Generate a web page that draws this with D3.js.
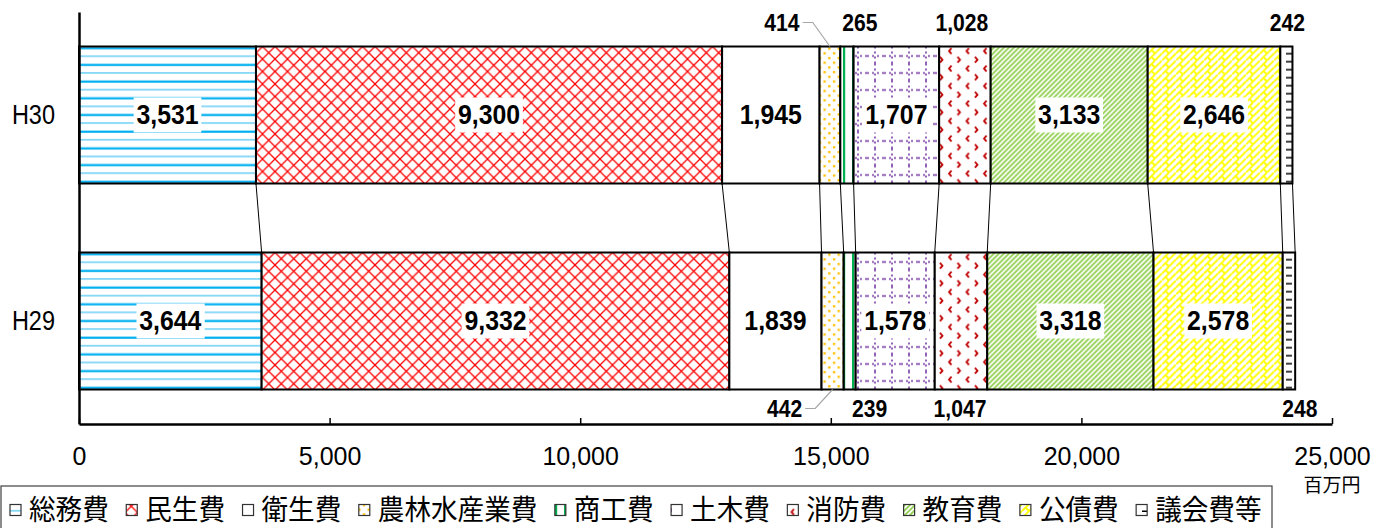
<!DOCTYPE html>
<html><head><meta charset="utf-8">
<script src="https://cdn.jsdelivr.net/npm/d3@7"></script>
<style>body{margin:0;background:#fff;} svg{display:block;}</style>
</head><body><svg id="c" width="1386" height="528"></svg>
<script>
// ---------------- data ----------------
const years = ["H30", "H29"];
const categories = ["総務費","民生費","衛生費","農林水産業費","商工費","土木費","消防費","教育費","公債費","議会費等"];
const valuesH30 = [3531, 9300, 1945, 414, 265, 1707, 1028, 3133, 2646, 242];
const valuesH29 = [3644, 9332, 1839, 442, 239, 1578, 1047, 3318, 2578, 248];
const xTicks = [0, 5000, 10000, 15000, 20000, 25000];
const unitLabel = "百万円";

// ---------------- layout / style config ----------------
const outsideCats = new Set(["農林水産業費","商工費","消防費","議会費等"]);
const labelDx = {
  H30: {"農林水産業費": -48, "商工費": 13, "消防費": -3, "議会費等": 1},
  H29: {"農林水産業費": -48, "商工費": 20, "消防費": -1, "議会費等": 11}
};
const leaderCats = new Set(["農林水産業費"]);
const FONT = "'Liberation Sans', Arial, sans-serif";
const JFONT = "'Noto Sans CJK JP', 'Noto Sans', sans-serif";

const svg = d3.select("#c");
const defs = svg.append("defs");

const x = d3.scaleLinear().domain([0, 25000]).range([79, 1332]);
const y = d3.scaleBand().domain(years).range([12, 424]).paddingInner(0.335).paddingOuter(0.1675);
const bw = y.bandwidth();

// ---------------- patterns ----------------
function makePattern(id, ci, ty) {
  const p = defs.append("pattern").attr("id", id).attr("patternUnits", "userSpaceOnUse");
  const add = (w, h) => { p.attr("width", w).attr("height", h).attr("patternTransform", `translate(0,${ty})`);
    p.append("rect").attr("width", w).attr("height", h).attr("fill", "#fff"); };
  switch (ci) {
    case 0: add(8, 16.7);
      p.append("rect").attr("x",0).attr("y",0.6).attr("width",8).attr("height",2.2).attr("fill","#00B0F0");
      p.append("rect").attr("x",0).attr("y",9.1).attr("width",8).attr("height",1.3).attr("fill","#55c8f4");
      break;
    case 1: add(12.5, 12.5);
      p.append("path").attr("d","M0,0L12.5,12.5M12.5,0L0,12.5").attr("stroke","#FF0000").attr("stroke-width",1.3).attr("fill","none");
      break;
    case 2: add(10, 10); break;
    case 3: add(9.4, 9.4);
      p.append("rect").attr("x",1).attr("y",1).attr("width",2.3).attr("height",2.3).attr("fill","#FFC000");
      p.append("rect").attr("x",5.7).attr("y",5.7).attr("width",2.3).attr("height",2.3).attr("fill","#FFC000");
      break;
    case 4: add(9, 10);
      p.append("rect").attr("x",6).attr("y",0).attr("width",2.2).attr("height",10).attr("fill","#00B050");
      break;
    case 5: add(17, 17);
      p.append("line").attr("x1",8).attr("x2",8).attr("y1",0).attr("y2",17).attr("stroke","#7030A0").attr("stroke-width",1.5).attr("stroke-dasharray","2,3");
      p.append("line").attr("x1",0).attr("x2",17).attr("y1",9.4).attr("y2",9.4).attr("stroke","#7030A0").attr("stroke-width",1.5).attr("stroke-dasharray","2,3");
      break;
    case 6: add(17.5, 17.5);
      p.append("path").attr("d","M6.5,1.5L4,4.5L6.5,7.5").attr("stroke","#C00000").attr("stroke-width",1.8).attr("fill","none");
      p.append("path").attr("d","M12.5,10.25L15,13.25L12.5,16.25").attr("stroke","#C00000").attr("stroke-width",1.8).attr("fill","none");
      break;
    case 7: add(5, 5);
      p.append("path").attr("d","M-1,1L1,-1M0,5L5,0M4,6L6,4").attr("stroke","#92D050").attr("stroke-width",1.8).attr("fill","none");
      break;
    case 8: add(14, 14);
      p.append("path").attr("d","M0,7L7,0M0,14L14,0M7,14L14,7M3.5,3.5L7,7M3.5,10.5L7,14M10.5,-3.5L14,0")
        .attr("stroke","#FFFF00").attr("stroke-width",1.8).attr("fill","none");
      break;
    case 9: add(12, 8);
      p.append("rect").attr("x",2).attr("y",6.5).attr("width",6).attr("height",1.6).attr("fill","#000");
      break;
  }
}
years.forEach((yr, yi) => categories.forEach((c, ci) => makePattern(`p${yi}_${ci}`, ci, y(yr))));
categories.forEach((c, ci) => makePattern(`pl_${ci}`, ci, 0));

// ---------------- stacked data ----------------
const valuesByYear = {H30: valuesH30, H29: valuesH29};
const stacks = {};
years.forEach(yr => {
  let acc = 0;
  stacks[yr] = categories.map((c, ci) => {
    const v = valuesByYear[yr][ci];
    const d = {year: yr, cat: c, ci, v, x0: acc, x1: acc + v};
    acc += v; return d;
  });
});

// ---------------- series lines ----------------
const gLines = svg.append("g");
categories.forEach((c, ci) => {
  const a = stacks.H30[ci], b = stacks.H29[ci];
  gLines.append("line")
    .attr("x1", x(a.x1)).attr("y1", y("H30") + bw)
    .attr("x2", x(b.x1)).attr("y2", y("H29"))
    .attr("stroke", "#000").attr("stroke-width", 1);
});

// ---------------- bars ----------------
years.forEach((yr, yi) => {
  svg.append("g").selectAll("rect").data(stacks[yr]).join("rect")
    .attr("x", d => x(d.x0)).attr("y", y(yr))
    .attr("width", d => x(d.x1) - x(d.x0)).attr("height", bw)
    .attr("fill", d => `url(#p${yi}_${d.ci})`)
    .attr("stroke", "#000").attr("stroke-width", 2);
});

// ---------------- axes ----------------
const xAxis = svg.append("g").attr("transform", `translate(0,${424})`)
  .call(d3.axisBottom(x).tickValues(xTicks).tickSizeInner(-6).tickSizeOuter(0).tickFormat(d3.format(",")));
xAxis.select(".domain").attr("stroke", "#000").attr("stroke-width", 2.5);
xAxis.selectAll(".tick line").attr("stroke", "#000").attr("stroke-width", 1.5);
xAxis.selectAll(".tick text").attr("y", 32).attr("dy", "0.35em")
  .attr("font-family", FONT).attr("font-size", 25).attr("fill", "#000");

const yAxis = svg.append("g").attr("transform", `translate(${79},0)`)
  .call(d3.axisLeft(y).tickSize(0).tickSizeOuter(0));
yAxis.select(".domain").attr("stroke", "#000").attr("stroke-width", 2.5);
yAxis.selectAll(".tick text").attr("x", 0).attr("dy", "0.35em")
  .attr("transform", "translate(-24,0) scale(0.87,1)")
  .attr("text-anchor", "end")
  .attr("font-family", FONT).attr("font-size", 27).attr("fill", "#000");

// unit
svg.append("text").attr("x", x(25000)).attr("y", 485).attr("dy", "0.35em")
  .attr("text-anchor", "middle").attr("font-family", JFONT).attr("font-size", 19).attr("fill", "#000")
  .text(unitLabel);

// ---------------- data labels ----------------
const gLab = svg.append("g");
years.forEach((yr, yi) => {
  stacks[yr].forEach(d => {
    const segC = (x(d.x0) + x(d.x1)) / 2;
    const txt = d3.format(",")(d.v);
    if (!outsideCats.has(d.cat)) {
      const g = gLab.append("g").attr("transform", `translate(${segC},${y(yr) + bw / 2}) scale(0.92,1)`);
      const t = g.append("text").attr("text-anchor", "middle").attr("dy", "0.35em")
        .attr("font-family", FONT).attr("font-weight", "bold").attr("font-size", 27).attr("fill", "#000").text(txt);
      const bb = t.node().getBBox();
      g.insert("rect", "text").attr("x", bb.x - 3).attr("y", -17.5).attr("width", bb.width + 6).attr("height", 35).attr("fill", "#fff");
    } else {
      const cx = segC + labelDx[yr][d.cat];
      const cy = yi === 0 ? y(yr) - 24 : y(yr) + bw + 19;
      const g = gLab.append("g").attr("transform", `translate(${cx},${cy}) scale(0.88,1)`);
      const t = g.append("text").attr("text-anchor", "middle").attr("dy", "0.35em")
        .attr("font-family", FONT).attr("font-weight", "bold").attr("font-size", 24).attr("fill", "#000").text(txt);
      if (leaderCats.has(d.cat)) {
        const bb = t.node().getBBox();
        const rx = cx + bb.width * 0.88 / 2 + 3;
        const endY = yi === 0 ? y(yr) : y(yr) + bw;
        svg.append("polyline")
          .attr("points", `${rx},${cy} ${rx + 10},${cy} ${segC},${endY}`)
          .attr("fill", "none").attr("stroke", "#a6a6a6").attr("stroke-width", 1.2);
      }
    }
  });
});

// ---------------- legend ----------------
const gLeg = svg.append("g");
gLeg.append("rect").attr("x", 1).attr("y", 486).attr("width", 1271).attr("height", 60)
  .attr("fill", "#fff").attr("stroke", "#404040").attr("stroke-width", 1.2);
let lx = 10;
const ly = 510;
categories.forEach((c, ci) => {
  gLeg.append("rect").attr("x", lx).attr("y", ly - 5.5).attr("width", 11).attr("height", 11)
    .attr("fill", `url(#pl_${ci})`).attr("stroke", "#333").attr("stroke-width", 1.2);
  const g = gLeg.append("g").attr("transform", `translate(${lx + 19},${ly}) scale(0.95,1)`);
  const t = g.append("text").attr("dy", "0.35em").attr("font-family", JFONT).attr("font-size", 28).attr("fill", "#000").text(c);
  const w = t.node().getComputedTextLength() * 0.95;
  lx = lx + 19 + w + 17.5;
});
</script>
</body></html>
